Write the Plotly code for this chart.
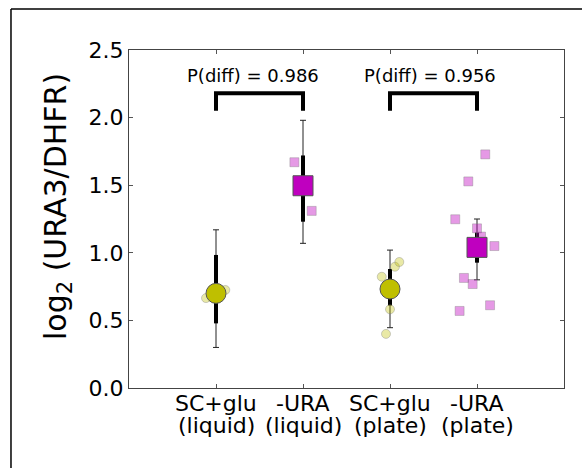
import plotly.graph_objects as go

cat_line1 = ["SC+glu", "-URA", "SC+glu", "-URA"]
cat_line2 = ["(liquid)", "(liquid)", "(plate)", "(plate)"]
cat_pos = [0, 1, 2, 3]
means = [0.70, 1.496, 0.732, 1.04]
inner_lo = [0.478, 1.23, 0.61, 0.927]
inner_hi = [0.984, 1.72, 0.88, 1.15]
outer_lo = [0.30, 1.07, 0.446, 0.80]
outer_hi = [1.17, 1.98, 1.02, 1.25]

pts_vals = [
    [0.665, 0.725, 0.70],
    [1.67, 1.31, 1.50],
    [0.823, 0.897, 0.932, 0.582, 0.40],
    [1.728, 1.528, 1.248, 1.181, 1.12, 1.05, 0.814, 0.769, 0.612, 0.57],
]
pts_jitter = [
    [-0.115, 0.107, 0.0],
    [-0.099, 0.10, 0.0],
    [-0.095, 0.057, 0.107, 0.0, -0.046],
    [0.095, -0.10, -0.25, 0.0, 0.046, 0.20, -0.15, -0.05, 0.15, -0.20],
]
group_symbol = ["circle", "square", "circle", "square"]
group_color = ["#BFBF00", "#BF00BF", "#BFBF00", "#BF00BF"]
light_color = ["rgba(191,191,0,0.35)", "rgba(191,0,191,0.4)", "rgba(191,191,0,0.35)", "rgba(191,0,191,0.4)"]

pairs = [(0, 1), (2, 3)]
p_labels = ["P(diff) = 0.986", "P(diff) = 0.956"]
bracket_top = 2.18
bracket_bot = 2.05
label_y = 2.31
label_x = [0.42, 2.46]

FONT = "DejaVu Sans"
fig = go.Figure()

# thin whiskers
fig.add_trace(go.Scatter(
    x=cat_pos, y=means, mode="markers", marker=dict(size=1, opacity=0),
    error_y=dict(type="data", symmetric=False,
                 array=[h - m for h, m in zip(outer_hi, means)],
                 arrayminus=[m - l for m, l in zip(means, outer_lo)],
                 thickness=1, width=3, color="#222"),
    showlegend=False, hoverinfo="skip"))
# thick inner bars
fig.add_trace(go.Scatter(
    x=cat_pos, y=means, mode="markers", marker=dict(size=1, opacity=0),
    error_y=dict(type="data", symmetric=False,
                 array=[h - m for h, m in zip(inner_hi, means)],
                 arrayminus=[m - l for m, l in zip(means, inner_lo)],
                 thickness=4, width=0, color="black"),
    showlegend=False, hoverinfo="skip"))

# individual points
for g in range(4):
    fig.add_trace(go.Scatter(
        x=[cat_pos[g] + j for j in pts_jitter[g]], y=pts_vals[g], mode="markers",
        marker=dict(symbol=group_symbol[g], size=9, color=light_color[g],
                    line=dict(color="rgba(120,120,120,0.35)", width=1)),
        showlegend=False, hoverinfo="skip"))

# mean markers
for g in range(4):
    fig.add_trace(go.Scatter(
        x=[cat_pos[g]], y=[means[g]], mode="markers",
        marker=dict(symbol=group_symbol[g], size=20, color=group_color[g],
                    line=dict(color="#555", width=1)),
        showlegend=False, hoverinfo="skip"))

# brackets
for (a, b) in pairs:
    fig.add_trace(go.Scatter(
        x=[a, a, b, b], y=[bracket_bot, bracket_top, bracket_top, bracket_bot],
        mode="lines", line=dict(color="black", width=4),
        showlegend=False, hoverinfo="skip"))

annotations = []
for lx, lab in zip(label_x, p_labels):
    annotations.append(dict(x=lx, y=label_y, xref="x", yref="y", text=lab,
                            showarrow=False, font=dict(family=FONT, size=18, color="black"),
                            xanchor="center", yanchor="middle"))
for cx, l1, l2 in zip(cat_pos, cat_line1, cat_line2):
    annotations.append(dict(x=cx, y=-0.0444, xref="x", yref="paper", text=l1,
                            showarrow=False, font=dict(family=FONT, size=22, color="black"),
                            xanchor="center", yanchor="middle"))
    annotations.append(dict(x=cx, y=-0.1095, xref="x", yref="paper", text=l2,
                            showarrow=False, font=dict(family=FONT, size=22, color="black"),
                            xanchor="center", yanchor="middle"))
annotations.append(dict(x=-0.1655, y=0.5355, xref="paper", yref="paper",
                        text="log<sub>2</sub> (URA3/DHFR)", textangle=-90, showarrow=False,
                        font=dict(family=FONT, size=30, color="black"),
                        xanchor="center", yanchor="middle"))

shapes = [
    dict(type="line", xref="paper", yref="paper", x0=-0.2713, x1=1.0414, y0=1.1213, y1=1.1213,
         line=dict(color="black", width=1.5)),
    dict(type="line", xref="paper", yref="paper", x0=-0.2713, x1=-0.2713, y0=1.1213, y1=-0.25,
         line=dict(color="black", width=1.5)),
]

fig.update_layout(
    width=586, height=468,
    margin=dict(l=129, r=22, t=50, b=80),
    paper_bgcolor="white", plot_bgcolor="white",
    font=dict(family=FONT, size=22, color="black"),
    annotations=annotations, shapes=shapes,
    xaxis=dict(range=[-1, 4], tickmode="array", tickvals=cat_pos, showticklabels=False,
               showgrid=False, zeroline=False, showline=True, linecolor="#444", linewidth=1,
               mirror="ticks", ticks="inside", ticklen=4, tickcolor="#555"),
    yaxis=dict(range=[0, 2.5], tickmode="array", tickvals=[0, 0.5, 1.0, 1.5, 2.0, 2.5],
               ticktext=["0.0", "0.5", "1.0", "1.5", "2.0", "2.5"],
               showgrid=False, zeroline=False, showline=True, linecolor="#444", linewidth=1,
               mirror="ticks", ticks="inside", ticklen=4, tickcolor="#555",
               tickfont=dict(family=FONT, size=22, color="black")),
)

fig.write_html("out.html")
